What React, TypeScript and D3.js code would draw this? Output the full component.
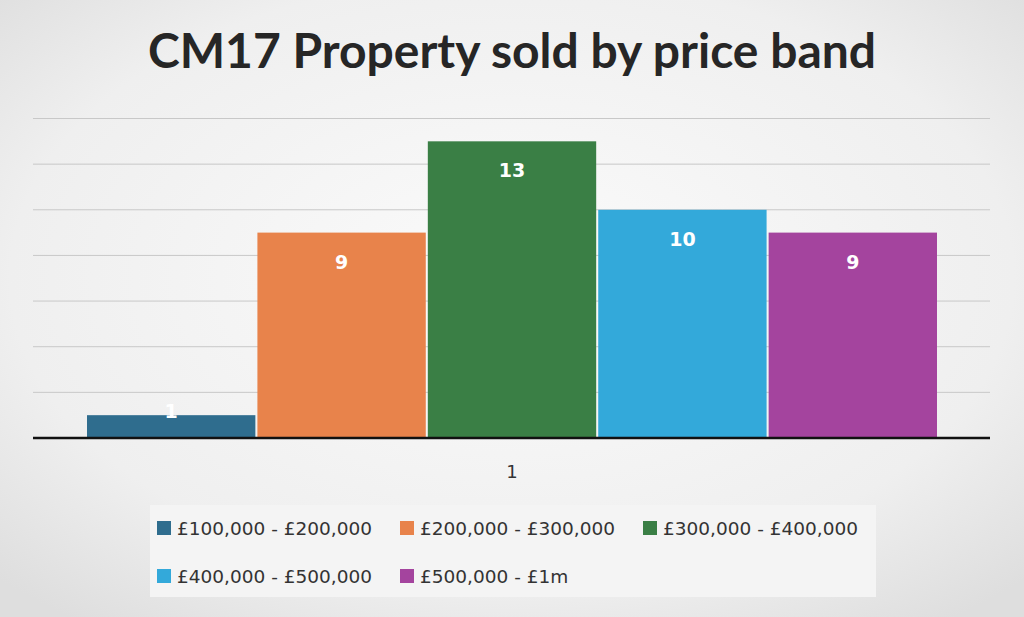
import * as d3 from 'd3'

const categories = ['£100,000 - £200,000', '£200,000 - £300,000', '£300,000 - £400,000', '£400,000 - £500,000', '£500,000 - £1m']
const values = [1, 9, 13, 10, 9]
const colors = ['#2f6d8e', '#e8834b', '#3a7f45', '#33a9da', '#a4449e']
const yTicks = [0, 2, 4, 6, 8, 10, 12, 14]

export default function App() {
  const width = 1024
  const height = 617
  const y = d3.scaleLinear().domain([0, 14]).range([438, 118.5])
  const x = d3.scaleBand<string>().domain(categories).range([87, 937]).paddingInner(0.012)
  const legendRows = [categories.slice(0, 3), categories.slice(3)]

  return (
    <svg width={width} height={height} style={{ position: 'absolute', left: 0, top: 0 }}
      fontFamily="'Open Sans', 'Liberation Sans', sans-serif">
      <defs>
        <radialGradient id="bg" cx="50%" cy="45%" r="70%">
          <stop offset="0%" stopColor="#fbfbfb" />
          <stop offset="70%" stopColor="#efefef" />
          <stop offset="100%" stopColor="#dedede" />
        </radialGradient>
      </defs>
      <rect width={width} height={height} fill="url(#bg)" />
      <text x={512} y={68} textAnchor="middle" fontSize={48} fontWeight="bold" fill="#262626"
        fontFamily="Lato, 'Open Sans', sans-serif">CM17 Property sold by price band</text>
      {yTicks.slice(1).map(t => (
        <line key={t} x1={33} x2={990} y1={y(t)} y2={y(t)} stroke="#c8c8c8" strokeWidth={1} />
      ))}
      {categories.map((c, i) => {
        const h = y(0) - y(values[i])
        return (
          <g key={c}>
            <rect x={x(c)} y={y(values[i])} width={x.bandwidth()} height={h} fill={colors[i]} />
            <text x={(x(c) ?? 0) + x.bandwidth() / 2} y={h < 40 ? y(values[i]) + 3 : y(values[i]) + 36}
              textAnchor="middle" fontSize={19} fontWeight="bold" fill="#fff"
              fontFamily="'DejaVu Sans', sans-serif">{values[i]}</text>
          </g>
        )
      })}
      <line x1={33} x2={990} y1={y(0)} y2={y(0)} stroke="#111" strokeWidth={2.5} />
      <text x={512} y={478} textAnchor="middle" fontSize={18} fill="#333"
        fontFamily="'DejaVu Sans', sans-serif">1</text>
      <rect x={150} y={505} width={726} height={92} fill="#f4f4f4" />
      {legendRows.map((row, r) =>
        row.map((c, k) => {
          const i = categories.indexOf(c)
          return (
            <g key={c} transform={`translate(${157 + k * 243},${r === 0 ? 528 : 576})`}>
              <rect x={0} y={-7} width={14} height={14} fill={colors[i]} />
              <text x={20} y={7} fontSize={18.5} fill="#333"
                fontFamily="'DejaVu Sans', sans-serif">{c}</text>
            </g>
          )
        })
      )}
    </svg>
  )
}
